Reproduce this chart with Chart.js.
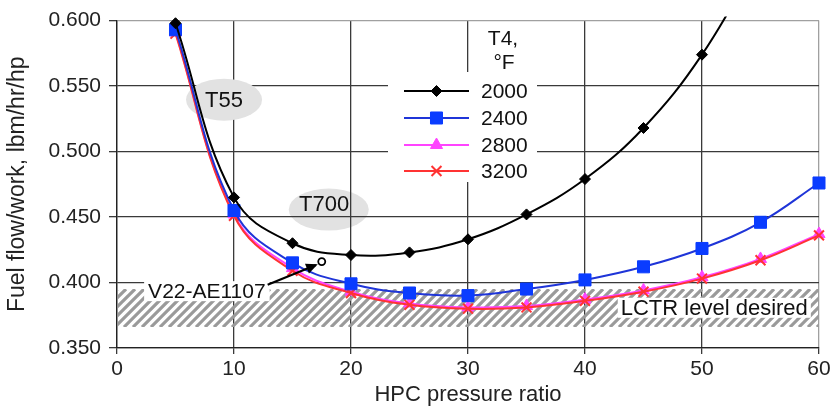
<!DOCTYPE html>
<html>
<head>
<meta charset="utf-8">
<script src="https://cdn.jsdelivr.net/npm/chart.js@4.4.1/dist/chart.umd.min.js"></script>
<style>
  html, body { margin: 0; padding: 0; background: #fff; }
  #wrap { width: 836px; height: 409px; }
</style>
</head>
<body>
<div id="wrap"><canvas id="c" width="836" height="409"></canvas></div>
<script>
// ---- data ----
const pressureRatio = [5, 10, 15, 20, 25, 30, 35, 40, 45, 50, 55, 60];
const seriesNames = ['2000', '2400', '2800', '3200'];
const t2000 = [0.598, 0.465, 0.430, 0.421, 0.423, 0.433, 0.452, 0.479, 0.518, 0.574, 0.650];
const t2400 = [0.593, 0.455, 0.415, 0.399, 0.392, 0.390, 0.395, 0.402, 0.412, 0.426, 0.446, 0.476];
const t2800 = [0.591, 0.452, 0.411, 0.393, 0.384, 0.381, 0.382, 0.387, 0.394, 0.404, 0.418, 0.437];
const t3200 = [0.590, 0.451, 0.409, 0.392, 0.383, 0.380, 0.381, 0.386, 0.393, 0.403, 0.417, 0.436];
const xTicks = [0, 10, 20, 30, 40, 50, 60];
const yTicks = [0.350, 0.400, 0.450, 0.500, 0.550, 0.600];
const desiredBand = [0.366, 0.395];   // LCTR level desired (fuel flow/work)
const legendTitle = ['T4,', '\u00B0F'];
const labelT55 = 'T55';
const labelT700 = 'T700';
const labelV22 = 'V22-AE1107';
const labelLCTR = 'LCTR level desired';

const FONT = "'Liberation Sans', Arial, sans-serif";

function pts(arr) {
  return arr.map((v, i) => ({ x: pressureRatio[i], y: v })).filter(p => p.y != null);
}

const styles = [
  { border: '#000000', bg: '#000000', point: 'rectRot', r: 5.5, order: 0 },
  { border: '#1f35d8', bg: '#0a3cff', point: 'rect', r: 8.5, order: 1 },
  { border: '#ff44ff', bg: '#ff44ff', point: 'triangle', r: 7, order: 3 },
  { border: '#ff3333', bg: '#ff3333', point: 'crossRot', r: 7, order: 2 }
];
const allSeries = [t2000, t2400, t2800, t3200];

const datasets = allSeries.map((s, i) => ({
  label: seriesNames[i],
  data: pts(s),
  borderColor: styles[i].border,
  backgroundColor: styles[i].bg,
  pointBorderColor: styles[i].bg,
  pointBackgroundColor: styles[i].bg,
  pointStyle: styles[i].point,
  pointRadius: styles[i].r,
  pointBorderWidth: styles[i].point === 'crossRot' ? 2 : 1,
  borderWidth: 2,
  tension: 0.4,
  order: styles[i].order,
  clip: { left: 10, right: 10, top: 4, bottom: 10 }
}));

function drawEllipse(ctx, cx, cy, rx, ry, fill) {
  ctx.save();
  ctx.beginPath();
  ctx.ellipse(cx, cy, rx, ry, 0, 0, Math.PI * 2);
  ctx.fillStyle = fill;
  ctx.fill();
  ctx.restore();
}

const decor = {
  id: 'decor',
  beforeDraw(chart) {
    const ctx = chart.ctx;
    ctx.save();
    ctx.fillStyle = '#fff';
    ctx.fillRect(0, 0, chart.width, chart.height);
    ctx.restore();
    const xs = chart.scales.x, ys = chart.scales.y;
    // T700 bubble (under grid)
    drawEllipse(ctx, xs.getPixelForValue(18.1), ys.getPixelForValue(0.4557), 40, 21, '#e2e2e2');
  },
  beforeDatasetsDraw(chart) {
    const ctx = chart.ctx;
    const xs = chart.scales.x, ys = chart.scales.y;
    // hatched band
    const left = xs.getPixelForValue(0) + 1, right = xs.getPixelForValue(60);
    const top = ys.getPixelForValue(desiredBand[1]), bottom = ys.getPixelForValue(desiredBand[0]);
    const h = bottom - top;
    ctx.save();
    ctx.beginPath();
    ctx.rect(left, top, right - left, h);
    ctx.clip();
    ctx.strokeStyle = '#9a9a9a';
    ctx.lineWidth = 3.2;
    for (let k = left - h - 10; k < right + 10; k += 9) {
      ctx.beginPath();
      ctx.moveTo(k, bottom);
      ctx.lineTo(k + h, top);
      ctx.stroke();
    }
    ctx.restore();
    // T55 bubble (over grid)
    drawEllipse(ctx, xs.getPixelForValue(9.15), ys.getPixelForValue(0.5396), 38, 21, '#e2e2e2');
    ctx.save();
    ctx.font = '22px ' + FONT;
    ctx.fillStyle = '#111';
    ctx.textAlign = 'center';
    ctx.textBaseline = 'middle';
    ctx.fillText(labelT55, xs.getPixelForValue(9.15), ys.getPixelForValue(0.5396) + 1);
    ctx.restore();
  },
  afterDatasetsDraw(chart) {
    const ctx = chart.ctx;
    const xs = chart.scales.x, ys = chart.scales.y;
    ctx.save();
    ctx.font = '22px ' + FONT;
    ctx.fillStyle = '#111';
    ctx.textBaseline = 'middle';
    // T700 text
    ctx.textAlign = 'center';
    ctx.fillText(labelT700, xs.getPixelForValue(17.7), ys.getPixelForValue(0.4595));

    // V22 label with white box
    ctx.font = '21px ' + FONT;
    const vx = xs.getPixelForValue(2.66), vy = ys.getPixelForValue(0.3934);
    ctx.textAlign = 'left';
    const vw = ctx.measureText(labelV22).width;
    ctx.fillStyle = '#fff';
    ctx.fillRect(vx - 4, vy - 10, vw + 8, 20);
    ctx.fillStyle = '#111';
    ctx.fillText(labelV22, vx, vy + 1);

    // arrow
    const ax0 = vx + vw + 2, ay0 = ys.getPixelForValue(0.3983);
    const ax1 = xs.getPixelForValue(17.0), ay1 = ys.getPixelForValue(0.4134);
    ctx.strokeStyle = '#000';
    ctx.lineWidth = 2.2;
    ctx.beginPath();
    ctx.moveTo(ax0, ay0);
    ctx.lineTo(ax1, ay1);
    ctx.stroke();
    const ang = Math.atan2(ay1 - ay0, ax1 - ax0);
    ctx.fillStyle = '#000';
    ctx.beginPath();
    ctx.moveTo(ax1 + 2 * Math.cos(ang), ay1 + 2 * Math.sin(ang));
    ctx.lineTo(ax1 - 11 * Math.cos(ang - 0.5), ay1 - 11 * Math.sin(ang - 0.5));
    ctx.lineTo(ax1 - 11 * Math.cos(ang + 0.5), ay1 - 11 * Math.sin(ang + 0.5));
    ctx.closePath();
    ctx.fill();
    ctx.beginPath();
    ctx.arc(xs.getPixelForValue(17.5), ys.getPixelForValue(0.4160), 3.5, 0, Math.PI * 2);
    ctx.fillStyle = '#fff';
    ctx.fill();
    ctx.lineWidth = 1.8;
    ctx.stroke();

    // LCTR label
    ctx.font = '22px ' + FONT;
    ctx.textAlign = 'center';
    const lx = xs.getPixelForValue(51.05), ly = ys.getPixelForValue(0.3807);
    const lw = ctx.measureText(labelLCTR).width;
    ctx.fillStyle = '#fff';
    ctx.fillRect(lx - lw / 2 - 3, ly - 10, lw + 6, 20);
    ctx.fillStyle = '#111';
    ctx.fillText(labelLCTR, lx, ly + 1);

    // legend
    const boxL = 388, boxT = 72, boxW = 149, boxH = 110;
    ctx.fillStyle = '#fff';
    ctx.fillRect(boxL, boxT, boxW, boxH);
    ctx.fillStyle = '#111';
    ctx.textAlign = 'center';
    ctx.font = '21px ' + FONT;
    ctx.fillText(legendTitle[0], 503, 39);
    ctx.fillText(legendTitle[1], 504, 63);
    const rows = [91, 118, 145, 171];
    datasets.forEach((d, i) => {
      const y = rows[i];
      ctx.strokeStyle = d.borderColor;
      ctx.lineWidth = 2;
      ctx.beginPath();
      ctx.moveTo(404, y);
      ctx.lineTo(469, y);
      ctx.stroke();
      ctx.fillStyle = d.pointBackgroundColor;
      ctx.strokeStyle = d.pointBorderColor;
      ctx.lineWidth = d.pointBorderWidth;
      Chart.helpers.drawPoint(ctx, { pointStyle: d.pointStyle, radius: d.pointRadius, borderWidth: d.pointBorderWidth, rotation: 0 }, 436.5, y);
      ctx.fillStyle = '#111';
      ctx.textAlign = 'left';
      ctx.font = '21px ' + FONT;
      ctx.fillText(d.label, 481, y + 1);
    });
    ctx.restore();
  }
};

new Chart(document.getElementById('c'), {
  type: 'line',
  data: { datasets },
  options: {
    responsive: false,
    animation: false,
    layout: { padding: { left: 0, top: 17, right: 17, bottom: 0 } },
    plugins: { legend: { display: false }, tooltip: { enabled: false } },
    scales: {
      x: {
        type: 'linear',
        min: xTicks[0],
        max: xTicks[xTicks.length - 1],
        afterBuildTicks(s) { s.ticks = xTicks.map(v => ({ value: v })); },
        afterFit(s) { s.height = 61; },
        ticks: { font: { family: FONT, size: 21 }, color: '#222', padding: 3, maxRotation: 0 },
        grid: {
          color: c => (c.tick && c.tick.value === 60) ? '#a0a0a0' : '#3a3a3a',
          lineWidth: 1.3,
          tickLength: 6,
          tickColor: '#3a3a3a'
        },
        border: { color: '#222', width: 1.3 },
        title: { display: true, text: 'HPC pressure ratio', font: { family: FONT, size: 22 }, color: '#222', padding: { top: 0, bottom: 1 } }
      },
      y: {
        type: 'linear',
        min: yTicks[0],
        max: yTicks[yTicks.length - 1],
        afterBuildTicks(s) { s.ticks = yTicks.map(v => ({ value: v })); },
        afterFit(s) { s.width = 117; },
        ticks: { font: { family: FONT, size: 21 }, color: '#222', padding: 8, callback: v => Number(v).toFixed(3) },
        grid: {
          color: c => (c.tick && Math.abs(c.tick.value - 0.6) < 1e-9) ? '#a0a0a0' : '#3a3a3a',
          lineWidth: 1.3,
          tickLength: 8,
          tickColor: '#3a3a3a'
        },
        border: { color: '#222', width: 1.3 },
        title: { display: true, text: 'Fuel flow/work, lbm/hr/hp', font: { family: FONT, size: 23 }, color: '#222', padding: { top: 4, bottom: 0 } }
      }
    }
  },
  plugins: [decor]
});
</script>
</body>
</html>
